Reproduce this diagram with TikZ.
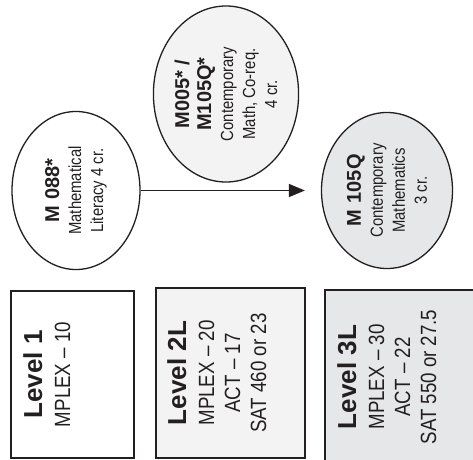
\documentclass[tikz,border=0pt]{standalone}
\usepackage{fontspec}
\setmainfont{Liberation Sans}
\newfontfamily\narrowfont{Liberation Sans}[FakeStretch=0.85]
\usetikzlibrary{shapes.geometric,arrows.meta}
\definecolor{inkGray}{HTML}{231F20}
\definecolor{paleGray}{HTML}{F3F3F3}
\definecolor{lightGray}{HTML}{E6E7E8}
\newcommand{\coursecode}[1]{{\normalfont\bfseries\fontsize{20}{22}\selectfont #1}}
\newcommand{\levelname}[1]{{\normalfont\bfseries\fontsize{26}{28}\selectfont #1}}
\begin{document}
\begin{tikzpicture}[x=1pt,y=1pt,
  course/.style={ellipse,draw=inkGray,line width=1.3pt,rotate=90,align=center,inner sep=0pt,text=inkGray,font=\narrowfont\fontsize{17.5}{22}\selectfont},
  levelbox/.style={rectangle,draw=inkGray,line width=1.8pt,inner sep=0pt},
  leveltext/.style={rotate=90,anchor=north,align=center,inner sep=0pt,text=inkGray,font=\narrowfont\fontsize{22}{26}\selectfont},
  arrow/.style={-{Triangle[length=16pt,width=13pt]},line width=1.5pt,draw=inkGray}]
  \useasboundingbox (0,0) rectangle (473,459);
  \fill[white] (0,0) rectangle (473,459);
  \clip (0,0) rectangle (473,459);
  % courses
  \node[course, minimum width=158pt, minimum height=128pt] (lit) at (76,268.5) {\coursecode{M\,\,088*}\\Mathematical\\Literacy 4 cr.};
  \node[course, fill=paleGray, minimum width=176pt, minimum height=140pt] (coreq) at (226,365) {\coursecode{M005*~/}\\\coursecode{M105Q*}\\Contemporary\\Math, Co-req.\\4 cr.};
  \node[course, fill=lightGray, minimum width=156pt, minimum height=131pt] (contemp) at (387,268.5) {\coursecode{M\,\,105Q}\\Contemporary\\Mathematics\\3 cr.};
  \draw[arrow, shorten >=16pt] (lit) -- (contemp);
  % levels
  \node[levelbox, minimum width=123pt, minimum height=167pt] (level1) at (72.5,84.5) {};
  \node[levelbox, fill=paleGray, minimum width=149pt, minimum height=170pt] (level2) at (230.5,86) {};
  \node[levelbox, fill=lightGray, minimum width=155pt, minimum height=174pt] (level3) at (402.5,82) {};
  \node[leveltext] (text1) at ([xshift=13pt]level1.west) {\levelname{Level 1}\\[2pt]MPLEX – 10};
  \node[leveltext] (text2) at ([xshift=12pt]level2.west) {\levelname{Level 2L}\\[2pt]MPLEX – 20\\ACT – 17\\SAT 460 or 23};
  \node[leveltext] (text3) at ([xshift=13pt]level3.west) {\levelname{Level 3L}\\[2pt]MPLEX – 30\\ACT – 22\\SAT 550 or 27.5};
\end{tikzpicture}
\end{document}
